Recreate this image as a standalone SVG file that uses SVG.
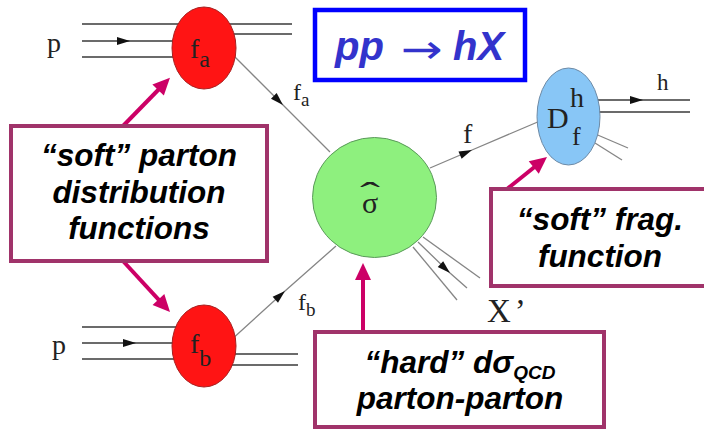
<svg xmlns="http://www.w3.org/2000/svg" width="704" height="430" viewBox="0 0 704 430">
  <defs>
    <!-- small black arrowhead placed mid-way along particle lines -->
    <marker id="tri" markerUnits="userSpaceOnUse" markerWidth="14" markerHeight="8" refX="13" refY="4" orient="auto" overflow="visible">
      <path d="M0,0 L13,4 L0,8 z" fill="#111"/>
    </marker>
    <!-- large magenta head for the callout arrows -->
    <marker id="callout" markerUnits="userSpaceOnUse" markerWidth="18" markerHeight="16" refX="7" refY="8" orient="auto" overflow="visible">
      <path d="M0,0 L17,8 L0,16 z" fill="#cc0066"/>
    </marker>
    <style>
      .beam { stroke:#3a3a3a; stroke-width:1.6; fill:none; }
      .leg { stroke:#858585; stroke-width:1.3; fill:none; }
      .mid { marker-mid:url(#tri); }
      .sym { font-family:"Liberation Serif","Times New Roman",serif; fill:#222; }
      .note { font-family:"Liberation Sans",Arial,sans-serif; font-weight:bold; font-style:italic; font-size:31.5px; fill:#000; text-anchor:middle; }
      .box { fill:#fff; stroke:#a0336a; stroke-width:4; }
      .call { stroke:#cc0066; stroke-width:4; fill:none; marker-end:url(#callout); }
      .title { font-family:"Liberation Sans",Arial,sans-serif; font-weight:bold; font-style:italic; font-size:40px; fill:#3333cc; }
    </style>
  </defs>

  <rect width="704" height="430" fill="#fff"/>

  <!-- particle lines -->
  <g id="connectors">
    <!-- incoming proton a -->
    <path class="beam" d="M82,24 L178,24"/>
    <path class="beam mid" d="M82,41 L130,41 L178,41"/>
    <path class="beam" d="M82,57 L178,57"/>
    <!-- remnant a -->
    <path class="beam" d="M225,24 L292,24"/>
    <path class="beam" d="M228,34 L292,34"/>
    <!-- incoming proton b -->
    <path class="beam" d="M82,327 L180,327"/>
    <path class="beam mid" d="M82,343 L136,343 L180,343"/>
    <path class="beam" d="M82,359 L180,359"/>
    <!-- remnant b -->
    <path class="beam" d="M228,354 L298,354"/>
    <path class="beam" d="M226,365 L298,365"/>
    <!-- partons into the hard scattering -->
    <path class="leg mid" d="M230,52 L283,105 L330,152"/>
    <path class="leg mid" d="M230,341 L285,291 L336,246"/>
    <!-- outgoing parton f -->
    <path class="leg mid" d="M430,168 L472,150 L540,121"/>
    <!-- X' jets -->
    <path class="leg" d="M413,247 L457,300"/>
    <path class="leg mid" d="M418,242 L450,273 L467,288"/>
    <path class="leg" d="M423,237 L480,278"/>
    <!-- hadron h and fragmentation remnants -->
    <path class="beam mid" d="M592,100 L643,100 L690,100"/>
    <path class="beam" d="M594,112 L690,112"/>
    <path class="leg" d="M593,133 L628,148"/>
    <path class="leg" d="M595,143 L622,160"/>

    <!-- callout arrows -->
    <path class="call" d="M123,126 L163,85"/>
    <path class="call" d="M123,261 L163.2,304.6"/>
    <path class="call" d="M507,189 L539.2,163.2"/>
    <path class="call" d="M363,332 L363,273"/>
  </g>

  <!-- line labels -->
  <g id="labels" class="sym">
    <text x="47" y="52" font-size="28">p</text>
    <text x="52" y="354" font-size="28">p</text>
    <text x="293" y="100" font-size="24">f<tspan font-size="19" dy="6">a</tspan></text>
    <text x="298" y="310" font-size="24">f<tspan font-size="19" dy="6">b</tspan></text>
    <text x="463" y="143" font-size="28">f</text>
    <text x="657" y="90" font-size="23">h</text>
    <text x="487" y="322" font-size="33">X<tspan dx="4">’</tspan></text>
  </g>

  <g id="node-fa">
    <ellipse cx="204" cy="48" rx="32" ry="41" fill="#ff1414" stroke="#a82020" stroke-width="1"/>
    <text class="sym" x="190" y="58" font-size="28" fill="#6a0000">f<tspan font-size="24" dy="9">a</tspan></text>
  </g>

  <g id="node-fb">
    <ellipse cx="204" cy="346" rx="32" ry="41" fill="#ff1414" stroke="#a82020" stroke-width="1"/>
    <text class="sym" x="190" y="353" font-size="28" fill="#6a0000">f<tspan font-size="24" dy="13">b</tspan></text>
  </g>

  <g id="node-sigma">
    <ellipse cx="374.5" cy="197.5" rx="62" ry="60" fill="#8ef07e" stroke="#5b9a5b" stroke-width="1"/>
    <!-- wide flat hat over sigma -->
    <text class="sym" transform="translate(370,204) scale(1.5,0.8)" font-size="40" text-anchor="middle" fill="#1a3a1a">ˆ</text>
    <text class="sym" x="370" y="213" font-size="30" text-anchor="middle" fill="#1a3a1a">σ</text>
  </g>

  <g id="node-D">
    <ellipse cx="568.5" cy="116.5" rx="31.5" ry="48.5" fill="#88c6f6" stroke="#6d8aa6" stroke-width="1"/>
    <text class="sym" font-size="30"><tspan x="547" y="128">D</tspan><tspan x="570" y="107" font-size="28">h</tspan><tspan x="572" y="145" font-size="26">f</tspan></text>
  </g>

  <g id="title">
    <rect x="315" y="10" width="210" height="70" fill="#fff" stroke="#0000ff" stroke-width="4.5"/>
    <text class="title" x="335" y="60">pp</text>
    <text transform="translate(401,63) scale(1.25,1)" font-family="DejaVu Sans, sans-serif" font-size="40" fill="#3333cc">→</text>
    <text class="title" x="453" y="60">hX</text>
  </g>

  <g id="note-pdf">
    <rect class="box" x="11" y="126" width="256" height="135"/>
    <text class="note"><tspan x="139" y="166">“soft” parton</tspan><tspan x="139" y="202.5">distribution</tspan><tspan x="139" y="239">functions</tspan></text>
  </g>

  <g id="note-frag">
    <rect class="box" x="491" y="189" width="230" height="97"/>
    <text class="note"><tspan x="600" y="230">“soft” frag.</tspan><tspan x="600" y="267">function</tspan></text>
  </g>

  <g id="note-hard">
    <rect class="box" x="315" y="332" width="289" height="95"/>
    <text class="note"><tspan x="460" y="373">“hard” dσ</tspan><tspan font-size="19" dy="6">QCD</tspan><tspan x="460" y="409">parton-parton</tspan></text>
  </g>
</svg>
